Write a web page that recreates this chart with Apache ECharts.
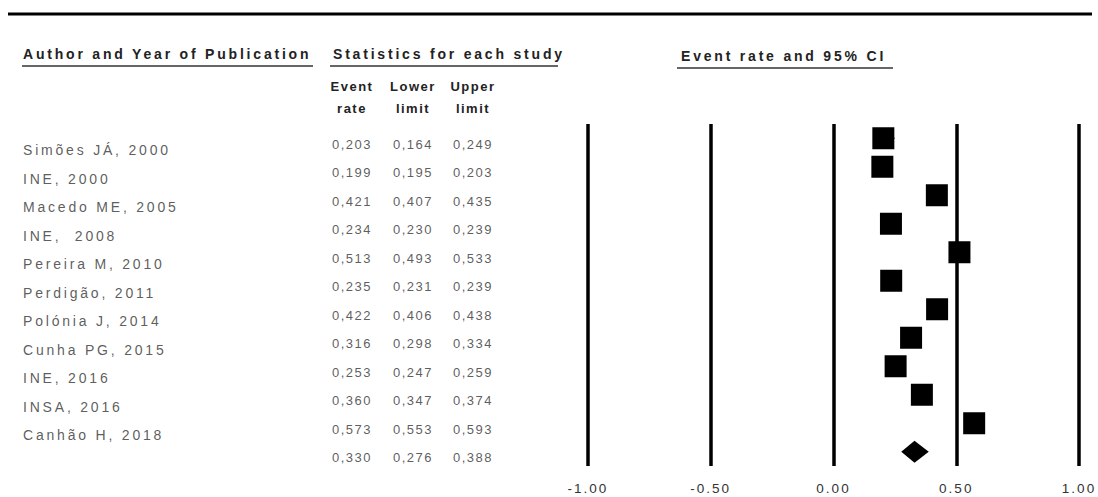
<!DOCTYPE html>
<html><head><meta charset="utf-8">
<script src="https://cdn.jsdelivr.net/npm/echarts@6/dist/echarts.min.js"></script>
<style>
html,body{margin:0;padding:0;background:#fff;}
#chart{width:1098px;height:497px;letter-spacing:2.8px;}
#chart text[style*="13px"]{letter-spacing:1.5px;}
#chart text[style*="13.5px"]{letter-spacing:2px;}
</style></head><body><div id="chart"></div>
<script>
// ---- data ----
const studies = ['Simões JÁ, 2000','INE, 2000','Macedo ME, 2005','INE,  2008','Pereira M, 2010','Perdigão, 2011','Polónia J, 2014','Cunha PG, 2015','INE, 2016','INSA, 2016','Canhão H, 2018'];
const eventRate  = [0.203,0.199,0.421,0.234,0.513,0.235,0.422,0.316,0.253,0.360,0.573];
const lowerLimit = [0.164,0.195,0.407,0.230,0.493,0.231,0.406,0.298,0.247,0.347,0.553];
const upperLimit = [0.249,0.203,0.435,0.239,0.533,0.239,0.438,0.334,0.259,0.374,0.593];
const summaryRate = [0.330];
const summaryLower = [0.276];
const summaryUpper = [0.388];
const xTickValues = [-1.00,-0.50,0.00,0.50,1.00];

// ---- layout/style config ----
const FONT = '"Liberation Sans", Arial, sans-serif';
const TXT = '#333';
const colX = {author: 23, rate: 352, lower: 413, upper: 473};
const nRows = studies.length + 1;
const fmt = v => v.toFixed(3).replace('.', ',');

const chart = echarts.init(document.getElementById('chart'), null, {renderer: 'svg'});

function tableSeries(key, values, align, dy, size) {
  const data = values.map((v, i) => ({value: [colX[key], i], name: typeof v === 'number' ? fmt(v) : v}));
  return {
    type: 'scatter', xAxisIndex: 1, yAxisIndex: 1, symbolSize: 1,
    itemStyle: {color: 'rgba(0,0,0,0)'}, silent: true,
    data: data,
    label: {show: true, position: 'inside', formatter: '{b}', align: align, verticalAlign: 'middle',
      offset: [0, dy], color: TXT, fontFamily: FONT, fontSize: size}
  };
}
const hdr = (text, x, y) => ({type: 'text', x: x, y: y,
  style: {text: text, font: 'bold 13px ' + FONT, fill: '#222', align: 'center', verticalAlign: 'middle'}});

const option = {
  animation: false,
  backgroundColor: '#fff',
  grid: [
    {left: 588, width: 491, top: 124, height: 342},
    {left: 0, width: 560, top: 124, height: 342}
  ],
  xAxis: [
    {type: 'value', gridIndex: 0, min: xTickValues[0], max: xTickValues[xTickValues.length-1],
      interval: xTickValues[1]-xTickValues[0],
      axisLine: {show: false}, axisTick: {show: false},
      splitLine: {show: true, lineStyle: {color: '#000', width: 3.5}},
      axisLabel: {margin: 15, color: TXT, fontFamily: FONT, fontSize: 13.5, formatter: v => v.toFixed(2)}},
    {type: 'value', gridIndex: 1, min: 0, max: 560, show: false}
  ],
  yAxis: [
    {type: 'value', gridIndex: 0, min: -0.5, max: nRows - 0.5, inverse: true, show: false},
    {type: 'value', gridIndex: 1, min: -0.5, max: nRows - 0.5, inverse: true, show: false}
  ],
  series: [
    tableSeries('author', studies, 'left', 12, 14),
    tableSeries('rate', eventRate.concat(summaryRate), 'center', 6, 13),
    tableSeries('lower', lowerLimit.concat(summaryLower), 'center', 6, 13),
    tableSeries('upper', upperLimit.concat(summaryUpper), 'center', 6, 13),
    {
      type: 'custom', xAxisIndex: 0, yAxisIndex: 0, silent: true,
      data: eventRate.map((r, i) => [lowerLimit[i], upperLimit[i], i]),
      renderItem: (params, api) => {
        const a = api.coord([api.value(0), api.value(2)]);
        const b = api.coord([api.value(1), api.value(2)]);
        return {type: 'line', shape: {x1: a[0], y1: a[1], x2: b[0], y2: b[1]}, style: {stroke: '#000', lineWidth: 1}};
      }
    },
    {
      type: 'scatter', xAxisIndex: 0, yAxisIndex: 0, silent: true,
      symbol: 'rect', symbolSize: 22,
      itemStyle: {color: '#000', opacity: 1},
      data: eventRate.map((r, i) => [r, i])
    },
    {
      type: 'custom', xAxisIndex: 0, yAxisIndex: 0, silent: true,
      data: summaryRate.map((r, i) => [r, summaryLower[i], summaryUpper[i], studies.length + i]),
      renderItem: (params, api) => {
        const row = api.value(3);
        const c = api.coord([api.value(0), row]);
        const l = api.coord([api.value(1), row]);
        const u = api.coord([api.value(2), row]);
        const h = 11;
        return {type: 'polygon', shape: {points: [[l[0], c[1]], [c[0], c[1]-h], [u[0], c[1]], [c[0], c[1]+h]]},
          style: {fill: '#000'}};
      }
    }
  ],
  graphic: [
    {type: 'line', shape: {x1: 8, y1: 14, x2: 1092, y2: 14}, style: {stroke: '#000', lineWidth: 3}},
    {type: 'text', left: 23, top: 47, style: {text: 'Author and Year of Publication', font: 'bold 14px ' + FONT, fill: '#222'}},
    {type: 'line', shape: {x1: 22, y1: 66, x2: 313, y2: 66}, style: {stroke: '#333', lineWidth: 1.5}},
    {type: 'text', left: 333, top: 47, style: {text: 'Statistics for each study', font: 'bold 14px ' + FONT, fill: '#222'}},
    {type: 'line', shape: {x1: 330, y1: 66, x2: 558, y2: 66}, style: {stroke: '#333', lineWidth: 1.5}},
    {type: 'text', left: 681, top: 49, style: {text: 'Event rate and 95% CI', font: 'bold 14px ' + FONT, fill: '#222'}},
    {type: 'line', shape: {x1: 677, y1: 68, x2: 893, y2: 68}, style: {stroke: '#333', lineWidth: 1.5}},
    hdr('Event', colX.rate, 86), hdr('rate', colX.rate, 108),
    hdr('Lower', colX.lower, 86), hdr('limit', colX.lower, 108),
    hdr('Upper', colX.upper, 86), hdr('limit', colX.upper, 108)
  ]
};
chart.setOption(option);
</script></body></html>
